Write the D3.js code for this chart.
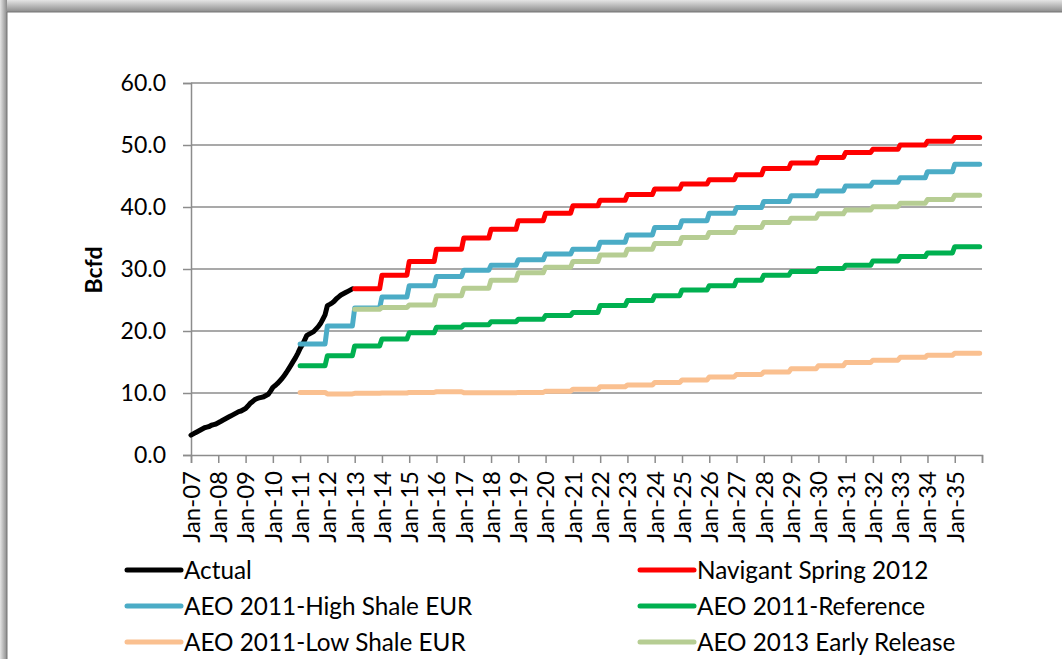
<!DOCTYPE html>
<html>
<head>
<meta charset="utf-8">
<script src="https://cdn.jsdelivr.net/npm/d3@7"></script>
<style>
  body { margin: 0; background: #fff; }
  svg { display: block; font-family: Lato, "Open Sans", sans-serif; }
</style>
</head>
<body>
<script>
// monthly actual production, Jan-07 .. Dec-12
var actual = [
  3.2, 3.4, 3.6, 3.8, 4.0, 4.2, 4.4, 4.5, 4.6, 4.8, 4.9, 5.0,
  5.2, 5.4, 5.6, 5.8, 6.0, 6.2, 6.4, 6.6, 6.8, 7.0, 7.1, 7.3,
  7.5, 7.9, 8.3, 8.6, 8.9, 9.1, 9.2, 9.3, 9.4, 9.6, 9.8, 10.3,
  10.9, 11.2, 11.5, 11.9, 12.3, 12.8, 13.3, 13.9, 14.5, 15.1, 15.7, 16.4,
  17.2, 17.8, 18.5, 19.3, 19.5, 19.7, 19.9, 20.3, 20.7, 21.2, 21.9, 22.6,
  24.1, 24.3, 24.5, 24.8, 25.2, 25.5, 25.8, 26.0, 26.2, 26.4, 26.6, 26.8
];

// annual projections (value held for each year)
var years2011 = [2011,2012,2013,2014,2015,2016,2017,2018,2019,2020,2021,2022,2023,
                 2024,2025,2026,2027,2028,2029,2030,2031,2032,2033,2034,2035];
var years2013 = years2011.slice(2);

var navigant = [26.8, 29.0, 31.2, 33.2, 35.0, 36.4, 37.8, 39.0, 40.2, 41.1, 42.0, 42.9,
                43.7, 44.4, 45.2, 46.2, 47.1, 48.0, 48.8, 49.3, 50.0, 50.6, 51.2];
var highShale = [17.9, 20.8, 23.7, 25.5, 27.3, 28.8, 29.8, 30.6, 31.5, 32.4, 33.2, 34.3, 35.5,
                 36.7, 37.8, 39.0, 39.9, 40.9, 41.8, 42.6, 43.4, 44.0, 44.7, 45.7, 46.9];
var reference = [14.4, 16.0, 17.6, 18.7, 19.7, 20.6, 21.0, 21.5, 21.9, 22.5, 23.0, 24.1, 24.9,
                 25.7, 26.6, 27.3, 28.2, 29.0, 29.6, 30.1, 30.6, 31.3, 32.0, 32.6, 33.6];
var lowShale = [10.1, 9.85, 9.95, 10.0, 10.1, 10.2, 10.05, 10.05, 10.1, 10.3, 10.6, 11.0, 11.3,
                11.7, 12.1, 12.6, 13.0, 13.4, 13.9, 14.4, 14.9, 15.3, 15.75, 16.1, 16.4];
var aeo2013 = [23.5, 23.8, 24.2, 25.7, 26.9, 28.2, 29.4, 30.3, 31.2, 32.25, 33.2, 34.1,
               35.1, 35.9, 36.7, 37.5, 38.2, 38.9, 39.5, 40.05, 40.6, 41.2, 41.9];

var yTicks = [0, 10, 20, 30, 40, 50, 60];

var w = 1062, h = 659;
var svg = d3.select("body").append("svg").attr("width", w).attr("height", h);

// frame shadow
var defs = svg.append("defs");
var gTop = defs.append("linearGradient").attr("id", "gTop").attr("x1", 0).attr("y1", 0).attr("x2", 0).attr("y2", 1);
gTop.append("stop").attr("offset", "0%").attr("stop-color", "#e4e4e4");
gTop.append("stop").attr("offset", "100%").attr("stop-color", "#8a8a8a");
var gLeft = defs.append("linearGradient").attr("id", "gLeft").attr("x1", 0).attr("y1", 0).attr("x2", 1).attr("y2", 0);
gLeft.append("stop").attr("offset", "0%").attr("stop-color", "#e4e4e4");
gLeft.append("stop").attr("offset", "100%").attr("stop-color", "#8a8a8a");
svg.append("rect").attr("x", 0).attr("y", 0).attr("width", w).attr("height", 12).attr("fill", "url(#gTop)");
svg.append("rect").attr("x", 0).attr("y", 0).attr("width", 7).attr("height", h).attr("fill", "url(#gLeft)");
svg.append("rect").attr("x", 7).attr("y", 12).attr("width", w - 7).attr("height", h - 12).attr("fill", "#fff");
svg.append("line").attr("x1", 7).attr("x2", w).attr("y1", 12).attr("y2", 12).attr("stroke", "#777").attr("stroke-width", 1);
svg.append("line").attr("x1", 7).attr("x2", 7).attr("y1", 12).attr("y2", h).attr("stroke", "#777").attr("stroke-width", 1);

var x = d3.scaleTime()
  .domain([new Date(2007, 0, 1), new Date(2036, 0, 1)])
  .range([191, 982]);
var y = d3.scaleLinear().domain([0, 60]).range([455, 83]);

// gridlines
svg.append("g").selectAll("line").data(yTicks.filter(function(d){ return d > 0; })).enter().append("line")
  .attr("x1", 191).attr("x2", 982)
  .attr("y1", function(d){ return y(d); }).attr("y2", function(d){ return y(d); })
  .attr("stroke", "#8c8c8c").attr("stroke-width", 1.5);

// y axis
var yAxis = svg.append("g").attr("transform", "translate(191,0)")
  .call(d3.axisLeft(y).tickValues(yTicks).tickSize(8).tickPadding(17).tickFormat(d3.format(".1f")));
yAxis.select(".domain").attr("stroke", "#8c8c8c").attr("stroke-width", 1.5);
yAxis.selectAll(".tick line").attr("stroke", "#8c8c8c").attr("stroke-width", 1.5);
yAxis.selectAll("text").attr("font-size", "23px").attr("fill", "#000").attr("font-family", "Lato");

// x axis
var xAxis = svg.append("g").attr("transform", "translate(0,455)")
  .call(d3.axisBottom(x).ticks(d3.timeYear.every(1)).tickSize(8).tickFormat(d3.timeFormat("%b-%y")));
xAxis.select(".domain").attr("stroke", "#8c8c8c").attr("stroke-width", 1.5);
xAxis.selectAll(".tick line").attr("stroke", "#8c8c8c").attr("stroke-width", 1.5);
xAxis.selectAll("text")
  .text(function(d){ return d.getFullYear() < 2036 ? d3.timeFormat("%b-%y")(d) : ""; })
  .attr("font-size", "24px").attr("fill", "#000").attr("font-family", "Lato")
  .attr("text-anchor", "end")
  .attr("transform", "rotate(-90)")
  .attr("x", -16).attr("y", 0).attr("dy", "0.35em");

// y title
svg.append("text").attr("transform", "translate(102,270) rotate(-90)")
  .attr("text-anchor", "middle").attr("font-size", "23px").attr("font-weight", "bold")
  .text("Bcfd");

// series
function stepPoints(years, vals) {
  var pts = [];
  years.forEach(function(yr, i) {
    pts.push([new Date(yr, 0, 1), vals[i]]);
    pts.push([new Date(yr, 11, 1), vals[i]]);
  });
  return pts;
}
var actualPts = actual.map(function(v, i){ return [new Date(2007, i, 1), v]; });

var line = d3.line().x(function(d){ return x(d[0]); }).y(function(d){ return y(d[1]); });

var series = [
  { name: "Actual", color: "#000000", pts: actualPts },
  { name: "Navigant Spring 2012", color: "#ff0000", pts: stepPoints(years2013, navigant) },
  { name: "AEO 2011-High Shale EUR", color: "#4bacc6", pts: stepPoints(years2011, highShale) },
  { name: "AEO 2011-Reference", color: "#00b050", pts: stepPoints(years2011, reference) },
  { name: "AEO 2011-Low Shale EUR", color: "#fac090", pts: stepPoints(years2011, lowShale) },
  { name: "AEO 2013 Early Release", color: "#b6cd93", pts: stepPoints(years2013, aeo2013) }
];

svg.append("g").selectAll("path").data(series).enter().append("path")
  .attr("d", function(d){ return line(d.pts); })
  .attr("fill", "none")
  .attr("stroke", function(d){ return d.color; })
  .attr("stroke-width", 5)
  .attr("stroke-linejoin", "round")
  .attr("stroke-linecap", "round");

// legend
var legend = svg.append("g").selectAll("g").data(series).enter().append("g")
  .attr("transform", function(d, i){
    return "translate(" + (i % 2 === 0 ? 127 : 640) + "," + (570 + Math.floor(i / 2) * 36) + ")";
  });
legend.append("line").attr("x1", 0).attr("x2", 54).attr("y1", 0).attr("y2", 0)
  .attr("stroke", function(d){ return d.color; }).attr("stroke-width", 5).attr("stroke-linecap", "round");
legend.append("text").attr("x", 57).attr("y", 0).attr("dy", "0.35em")
  .attr("font-size", "24.3px").attr("fill", "#000")
  .text(function(d){ return d.name; });
</script>
</body>
</html>
